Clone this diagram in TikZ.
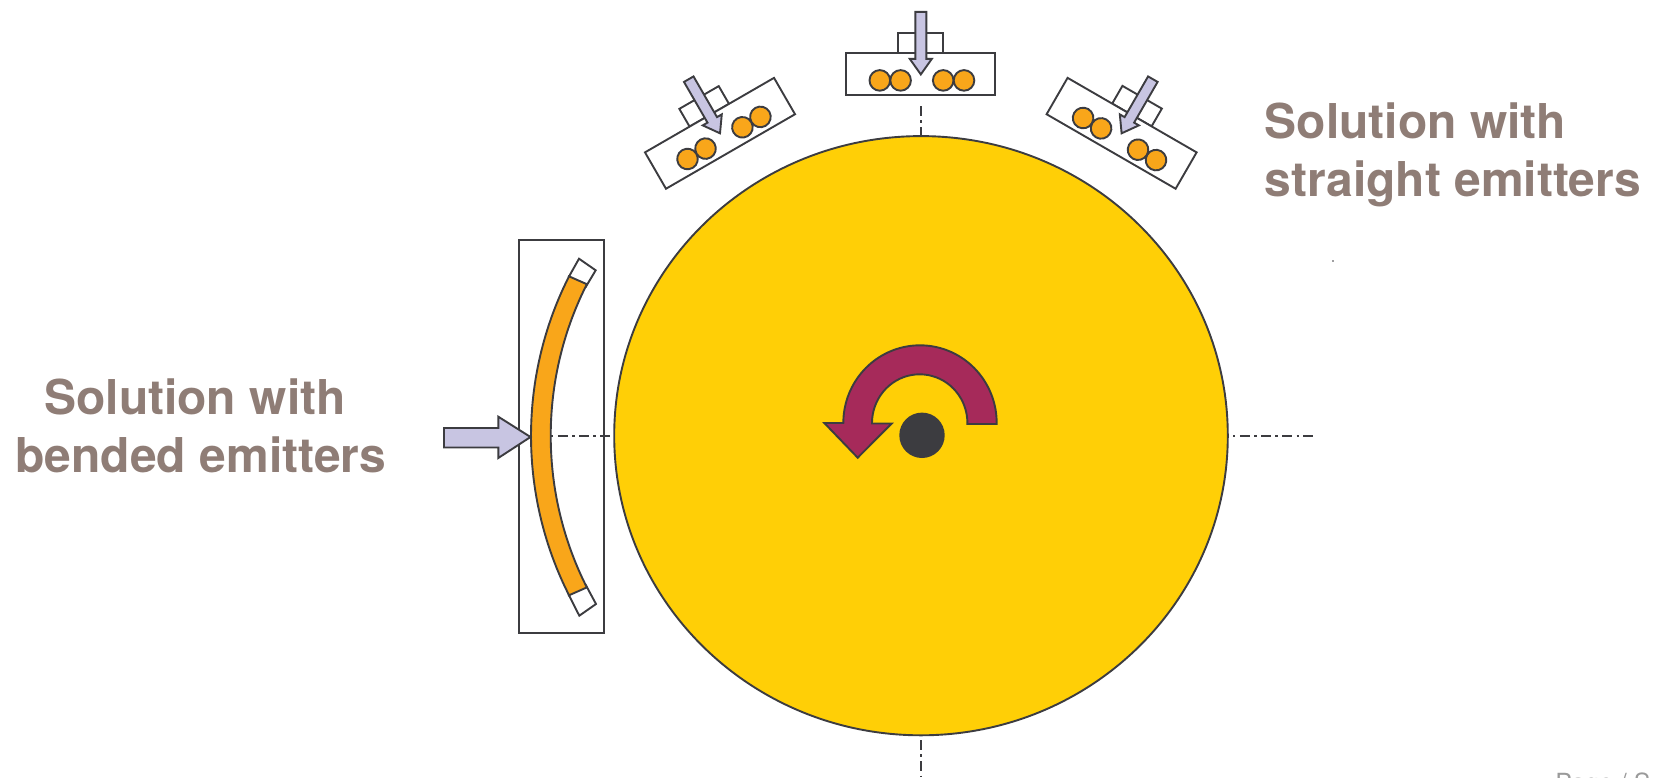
\documentclass[tikz,border=0pt]{standalone}
\usepackage{fontspec}
\setmainfont{TeX Gyre Heros}
\definecolor{ln}{HTML}{3C3C40}
\definecolor{wheel}{HTML}{FFCF06}
\definecolor{amber}{HTML}{F9A61A}
\definecolor{lilac}{HTML}{C8C5E2}
\definecolor{maroon}{HTML}{A62A5A}
\definecolor{taupe}{HTML}{8F7D76}
\definecolor{pagegray}{HTML}{9A9A9A}
\tikzset{
  outl/.style={draw=ln,line width=0.95pt,line join=miter},
  emit/.style={outl,fill=amber},
  blank/.style={outl,fill=white},
  push/.style={outl,fill=lilac},
  axisline/.style={draw=ln,line width=1pt,dash pattern=on 5pt off 2.2pt on 1.2pt off 2.2pt},
  axisdot/.style={draw=ln,line width=1pt,dash pattern=on 1.2pt off 2.2pt on 5pt off 2.2pt},
  heading/.style={text=taupe,font=\fontsize{24}{29}\selectfont\bfseries,inner sep=0pt},
  unit/.pic={
    \path[blank] (-23,-41.5) rectangle (22.5,-21);
    \path[blank] (-74.5,-21) rectangle (74.5,21);
    \foreach \cx in {-41,-20.2,22.4,43.2} \path[emit] (\cx,6) circle [x radius=10.3,y radius=10.3];
    \path[push] (-5.5,-62.5) -- (5.5,-62.5) -- (5.5,-15.5) -- (11,-15.5) -- (0,0) -- (-11,-15.5) -- (-5.5,-15.5) -- cycle;
  }
}
\begin{document}
\begin{tikzpicture}[x=0.5pt,y=-0.5pt]
\useasboundingbox (0,0) rectangle (1655,777);
% wheel
\path[outl,fill=wheel] (921,435.7) circle [x radius=306.8,y radius=299.6];
% centre lines
\draw[axisline] (921,106) -- (921,136);
\draw[axisline] (921,740) -- (921,777);
\draw[axisdot] (1233,435.7) -- (1313,435.7);
\draw[axisdot] (551,435.7) -- (614,435.7);
% straight emitter units
\path (920.8,74.4) pic {unit};
\path (1121.6,133.3) pic[rotate=-30] {unit};
\path (720,133.3) pic[rotate=30] {unit};
% bent emitter
\path[outl] (519,240.3) rectangle (603.7,632.7);
\path[blank] (569,276.5) -- (579,258.7) -- (595.7,270.3) -- (586,286.5) -- cycle;
\path[blank] (568.8,595) -- (579.3,615.7) -- (596,604) -- (585.8,585) -- cycle;
\path[emit] plot[smooth,domain=-26.8:26.8,samples=25] ({884.7-353.7*cos(\x)},{435.8+353.7*sin(\x)})
  -- plot[smooth,domain=26.8:-26.8,samples=25] ({887-336.3*cos(\x)},{435.8+336.3*sin(\x)}) -- cycle;
\path[push] (444,428) -- (498.3,428) -- (498.3,416.7) -- (530.5,437) -- (498.3,458) -- (498.3,447.5) -- (444,447.5) -- cycle;
% rotation arrow
\path[outl,fill=maroon] (996.7,424)
  -- plot[smooth,domain=0:180,samples=37] ({920+76.7*cos(\x)},{423-77.7*sin(\x)})
  -- (824.3,423) -- (857.7,457.7) -- (891.7,423.5) -- (872,423.5)
  -- plot[smooth,domain=180:0,samples=37] ({919.7+47.7*cos(\x)},{423-48.7*sin(\x)})
  -- (967.3,424) -- cycle;
\path[fill=ln] (922,435.3) circle [x radius=22.7,y radius=22.7];
% speck
\path[fill=ln] (1333,261) circle [x radius=0.9,y radius=0.9];
% labels
\node[heading,align=left,anchor=base west] (straight) at (1264.5,196) {Solution with\\straight emitters};
\node[heading,align=center,anchor=base] (bent) at (201,472) {Solution with\hspace*{6pt}\\bended emitters};
\begin{scope}
\clip (0,0) rectangle (1655,777);
\node[text=pagegray,font=\fontsize{12.5}{15}\selectfont,anchor=base west,inner sep=0pt] (page) at (1555,791) {Page / S};
\end{scope}
\end{tikzpicture}
\end{document}
